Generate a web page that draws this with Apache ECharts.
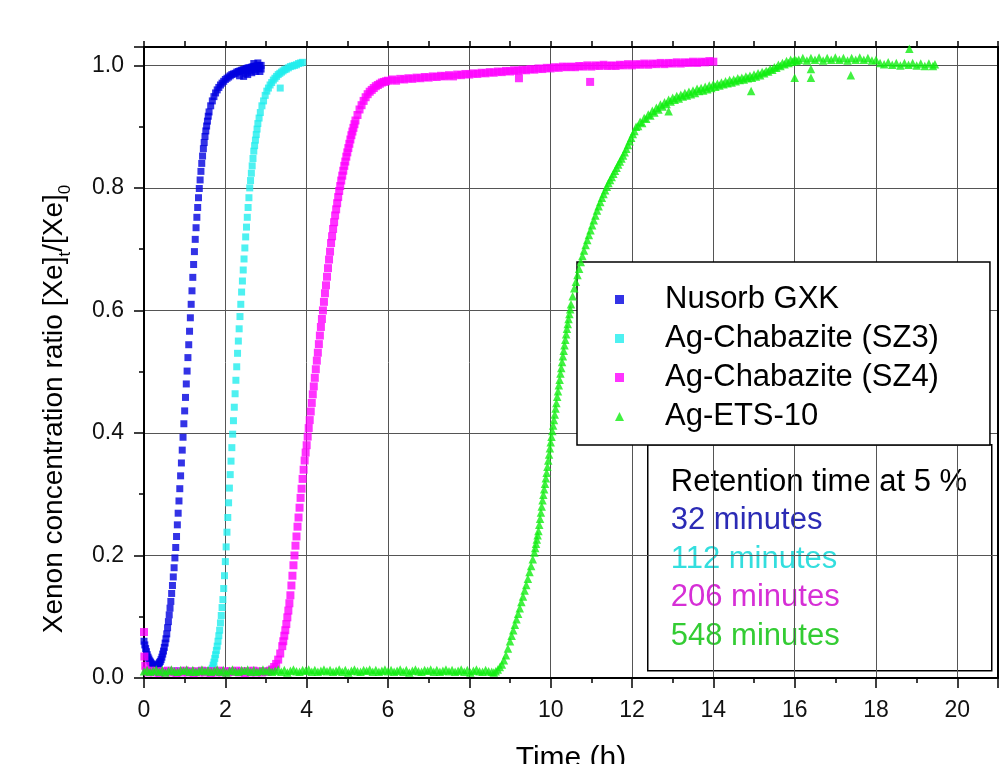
<!DOCTYPE html>
<html>
<head>
<meta charset="utf-8">
<script src="https://cdn.jsdelivr.net/npm/echarts@6/dist/echarts.min.js"></script>
<style>
html, body { margin: 0; padding: 0; background: #fff; }
#chart { width: 1000px; height: 764px; }
</style>
</head>
<body>
<div id="chart"></div>
<script>
// [time (h), [Xe]t/[Xe]0]
const nusorb = [
  [0.00,0.060],[0.02,0.054],[0.04,0.048],[0.06,0.043],[0.08,0.038],[0.10,0.034],[0.12,0.031],[0.14,0.028],
  [0.16,0.026],[0.18,0.024],[0.20,0.022],[0.22,0.021],[0.24,0.020],[0.26,0.020],[0.28,0.019],[0.30,0.020],
  [0.32,0.020],[0.34,0.021],[0.36,0.023],[0.38,0.025],[0.40,0.027],[0.42,0.030],[0.44,0.034],[0.46,0.039],
  [0.48,0.044],[0.50,0.050],[0.52,0.057],[0.54,0.064],[0.56,0.072],[0.58,0.082],[0.60,0.092],[0.62,0.103],
  [0.64,0.114],[0.66,0.125],[0.68,0.138],[0.70,0.151],[0.72,0.165],[0.74,0.180],[0.76,0.196],[0.78,0.213],
  [0.80,0.231],[0.82,0.250],[0.84,0.269],[0.86,0.289],[0.88,0.309],[0.90,0.330],[0.92,0.351],[0.94,0.372],
  [0.96,0.393],[0.98,0.415],[1.00,0.436],[1.02,0.458],[1.04,0.480],[1.06,0.501],[1.08,0.523],[1.10,0.544],
  [1.12,0.566],[1.14,0.588],[1.16,0.610],[1.18,0.632],[1.20,0.654],[1.22,0.675],[1.24,0.696],[1.26,0.716],
  [1.28,0.735],[1.30,0.752],[1.32,0.768],[1.34,0.784],[1.36,0.799],[1.38,0.813],[1.40,0.827],[1.42,0.840],
  [1.44,0.852],[1.46,0.864],[1.48,0.874],[1.50,0.884],[1.52,0.893],[1.54,0.901],[1.56,0.909],[1.58,0.917],
  [1.60,0.924],[1.64,0.934],[1.68,0.942],[1.72,0.949],[1.76,0.955],[1.80,0.960],[1.84,0.964],[1.88,0.968],
  [1.92,0.971],[1.96,0.974],[2.00,0.977],[2.04,0.979],[2.08,0.981],[2.12,0.983],[2.16,0.985],[2.20,0.986],
  [2.24,0.987],[2.28,0.989],[2.32,0.990],[2.36,0.991],[2.40,0.992],[2.44,0.993],[2.48,0.994],[2.52,0.995],
  [2.56,0.996],[2.60,0.996],[2.64,0.997],[2.68,0.998],[2.72,0.998],[2.76,0.999],[2.80,0.999],[2.84,1.000],
  [2.88,1.000],[2.45,0.982],[2.55,0.985],[2.65,0.988],[2.75,0.990],[2.85,0.990],[2.70,1.003],[2.80,1.004],
  [2.35,0.983],[2.50,0.987],[2.60,0.991],[2.72,0.993],[2.82,0.995],[2.88,0.994]
];
const sz3 = [
  [0.2,0.012],[0.5,0.011],[0.8,0.012],[1.1,0.011],[1.4,0.012],[1.6,0.012],
  [1.66,0.012],[1.68,0.016],[1.70,0.021],[1.72,0.026],[1.74,0.032],[1.76,0.038],[1.78,0.045],[1.80,0.052],
  [1.82,0.060],[1.84,0.069],[1.86,0.078],[1.88,0.090],[1.90,0.102],[1.92,0.115],[1.94,0.128],[1.96,0.146],
  [1.98,0.167],[2.00,0.190],[2.02,0.214],[2.04,0.238],[2.06,0.262],[2.08,0.286],[2.10,0.310],[2.12,0.332],
  [2.14,0.354],[2.16,0.376],[2.18,0.398],[2.20,0.420],[2.22,0.442],[2.24,0.464],[2.26,0.486],[2.28,0.508],
  [2.30,0.530],[2.32,0.550],[2.34,0.570],[2.36,0.590],[2.38,0.610],[2.40,0.630],[2.42,0.648],[2.44,0.666],
  [2.46,0.684],[2.48,0.702],[2.50,0.720],[2.52,0.736],[2.54,0.752],[2.56,0.768],[2.58,0.784],[2.60,0.800],
  [2.62,0.812],[2.64,0.824],[2.66,0.836],[2.68,0.848],[2.70,0.860],[2.72,0.869],[2.74,0.878],[2.76,0.887],
  [2.78,0.896],[2.80,0.905],[2.83,0.914],[2.86,0.923],[2.90,0.934],[2.94,0.942],[2.98,0.951],[3.02,0.958],
  [3.06,0.963],[3.10,0.968],[3.14,0.972],[3.18,0.976],[3.22,0.979],[3.26,0.982],[3.30,0.985],[3.34,0.987],
  [3.38,0.989],[3.42,0.991],[3.46,0.993],[3.50,0.994],[3.55,0.996],[3.60,0.998],[3.65,0.999],[3.70,1.000],
  [3.75,1.001],[3.80,1.003],[3.85,1.004],[3.90,1.005],[3.35,0.963]
];
const sz4 = [
  [0.00,0.075],[0.01,0.035],[0.03,0.020],[0.05,0.012],
  [0.10,0.009],[0.17,0.012],[0.24,0.009],[0.31,0.011],[0.38,0.008],[0.45,0.011],[0.52,0.009],[0.59,0.012],
  [0.66,0.009],[0.73,0.011],[0.80,0.008],[0.87,0.011],[0.94,0.009],[1.01,0.012],[1.08,0.009],[1.15,0.011],
  [1.22,0.008],[1.29,0.011],[1.36,0.009],[1.43,0.012],[1.50,0.009],[1.57,0.011],[1.64,0.008],[1.71,0.011],
  [1.78,0.009],[1.85,0.012],[1.92,0.009],[1.99,0.011],[2.06,0.009],[2.13,0.011],[2.20,0.010],[2.27,0.012],
  [2.34,0.009],[2.41,0.011],[2.48,0.008],[2.55,0.011],[2.62,0.009],[2.69,0.012],[2.76,0.009],[2.83,0.011],
  [2.90,0.009],[2.97,0.011],[3.04,0.010],
  [3.10,0.012],[3.15,0.014],[3.20,0.018],[3.25,0.023],[3.30,0.030],[3.35,0.040],
  [3.400,0.052],[3.425,0.060],[3.450,0.069],[3.475,0.078],[3.500,0.088],[3.525,0.099],[3.550,0.110],[3.575,0.122],
  [3.600,0.135],[3.625,0.151],[3.650,0.167],[3.675,0.184],[3.700,0.200],[3.725,0.216],[3.750,0.231],[3.775,0.247],
  [3.800,0.262],[3.825,0.278],[3.850,0.294],[3.875,0.309],[3.900,0.325],[3.925,0.340],[3.950,0.355],[3.975,0.368],
  [4.000,0.380],[4.025,0.394],[4.050,0.408],[4.075,0.421],[4.100,0.435],[4.125,0.449],[4.150,0.463],[4.175,0.476],
  [4.200,0.490],[4.225,0.504],[4.250,0.518],[4.275,0.531],[4.300,0.545],[4.325,0.559],[4.350,0.573],[4.375,0.586],
  [4.400,0.600],[4.425,0.614],[4.450,0.628],[4.475,0.641],[4.500,0.655],[4.525,0.669],[4.550,0.683],[4.575,0.696],
  [4.600,0.710],[4.625,0.721],[4.650,0.733],[4.675,0.744],[4.700,0.755],[4.725,0.765],[4.750,0.775],[4.775,0.785],
  [4.800,0.795],[4.825,0.803],[4.850,0.812],[4.875,0.820],[4.900,0.828],[4.925,0.836],[4.950,0.843],[4.975,0.851],
  [5.000,0.858],[5.025,0.865],[5.050,0.872],[5.075,0.879],[5.100,0.886],[5.125,0.892],[5.150,0.898],[5.175,0.904],
  [5.200,0.910],[5.250,0.919],[5.300,0.928],[5.35,0.935],[5.40,0.942],[5.45,0.948],[5.50,0.953],[5.55,0.957],
  [5.60,0.960],[5.65,0.963],[5.70,0.966],[5.75,0.968],[5.80,0.970],[5.85,0.972],[5.90,0.973],[5.95,0.974],
  [6.00,0.975],[6.1,0.977],[6.2,0.975],[6.3,0.978],[6.4,0.977],[6.5,0.979],[6.6,0.978],[6.7,0.980],[6.8,0.979],
  [6.9,0.981],[7.0,0.980],[7.1,0.982],[7.2,0.981],[7.3,0.983],[7.4,0.982],[7.5,0.984],[7.6,0.982],[7.7,0.985],
  [7.8,0.984],[7.9,0.986],[8.0,0.985],[8.1,0.987],[8.2,0.986],[8.3,0.988],[8.4,0.987],[8.5,0.989],[8.6,0.988],
  [8.7,0.990],[8.8,0.989],[8.9,0.991],[9.0,0.990],[9.1,0.992],[9.2,0.991],[9.3,0.993],[9.4,0.992],[9.5,0.994],
  [9.6,0.993],[9.7,0.995],[9.8,0.994],[9.9,0.996],[10.0,0.995],[10.1,0.997],[10.2,0.996],[10.3,0.998],[10.4,0.997],
  [10.5,0.998],[10.6,0.997],[10.7,0.999],[10.8,0.998],[10.9,1.000],[11.0,0.998],[11.1,1.000],[11.2,0.999],
  [11.3,1.001],[11.4,0.999],[11.5,1.000],[11.6,0.999],[11.7,1.001],[11.8,1.000],[11.9,1.002],[12.0,1.000],
  [12.1,1.002],[12.2,1.001],[12.3,1.003],[12.4,1.001],[12.5,1.003],[12.6,1.002],[12.7,1.004],[12.8,1.002],
  [12.9,1.004],[13.0,1.003],[13.1,1.005],[13.2,1.003],[13.3,1.005],[13.4,1.004],[13.5,1.006],[13.6,1.004],
  [13.7,1.006],[13.8,1.005],[13.9,1.007],[14.0,1.006],[9.22,0.979],[10.97,0.973]
];
const ets10 = [
  [0.000,0.011],[0.075,0.013],[0.150,0.010],[0.225,0.012],[0.300,0.014],[0.375,0.010],[0.450,0.013],[0.525,0.009],
  [0.600,0.012],[0.675,0.014],[0.750,0.011],[0.825,0.010],[0.900,0.013],[0.975,0.012],[1.050,0.014],[1.125,0.010],
  [1.200,0.013],[1.275,0.010],[1.350,0.012],[1.425,0.014],[1.500,0.011],[1.575,0.013],[1.650,0.010],[1.725,0.012],
  [1.800,0.014],[1.875,0.010],[1.950,0.013],[2.025,0.009],[2.100,0.012],[2.175,0.014],[2.250,0.011],[2.325,0.010],
  [2.400,0.013],[2.475,0.012],[2.550,0.014],[2.625,0.010],[2.700,0.013],[2.775,0.010],[2.850,0.012],[2.925,0.014],
  [3.000,0.011],[3.075,0.013],[3.150,0.010],[3.225,0.012],[3.300,0.014],[3.375,0.010],[3.450,0.013],[3.525,0.009],
  [3.600,0.012],[3.675,0.014],[3.750,0.011],[3.825,0.010],[3.900,0.013],[3.975,0.012],[4.050,0.014],[4.125,0.010],
  [4.200,0.013],[4.275,0.010],[4.350,0.012],[4.425,0.014],[4.500,0.011],[4.575,0.013],[4.650,0.010],[4.725,0.012],
  [4.800,0.014],[4.875,0.010],[4.950,0.013],[5.025,0.009],[5.100,0.012],[5.175,0.014],[5.250,0.011],[5.325,0.010],
  [5.400,0.013],[5.475,0.012],[5.550,0.014],[5.625,0.010],[5.700,0.013],[5.775,0.010],[5.850,0.012],[5.925,0.014],
  [6.000,0.011],[6.075,0.013],[6.150,0.010],[6.225,0.012],[6.300,0.014],[6.375,0.010],[6.450,0.013],[6.525,0.009],
  [6.600,0.012],[6.675,0.014],[6.750,0.011],[6.825,0.010],[6.900,0.013],[6.975,0.012],[7.050,0.014],[7.125,0.010],
  [7.200,0.013],[7.275,0.010],[7.350,0.012],[7.425,0.014],[7.500,0.011],[7.575,0.013],[7.650,0.010],[7.725,0.012],
  [7.800,0.014],[7.875,0.010],[7.950,0.013],[8.025,0.009],[8.100,0.012],[8.175,0.014],[8.250,0.011],[8.325,0.010],
  [8.400,0.013],[8.475,0.011],[8.550,0.010],
  [8.60,0.009],[8.65,0.011],[8.70,0.014],[8.75,0.018],[8.80,0.022],[8.85,0.029],[8.90,0.037],[8.95,0.048],
  [9.00,0.060],[9.04,0.069],[9.08,0.078],[9.12,0.087],[9.16,0.096],[9.20,0.105],[9.24,0.114],[9.28,0.124],
  [9.32,0.133],[9.36,0.143],[9.40,0.152],[9.44,0.162],[9.48,0.173],[9.52,0.183],[9.56,0.194],[9.60,0.205],
  [9.62,0.212],[9.64,0.219],[9.66,0.226],[9.68,0.233],[9.70,0.240],[9.72,0.250],[9.74,0.260],[9.76,0.270],
  [9.78,0.280],[9.80,0.290],[9.82,0.299],[9.84,0.308],[9.86,0.317],[9.88,0.326],[9.90,0.335],[9.92,0.345],
  [9.94,0.355],[9.96,0.365],[9.98,0.375],[10.00,0.385],[10.02,0.394],[10.04,0.403],[10.06,0.412],[10.08,0.421],
  [10.10,0.430],[10.12,0.440],[10.14,0.449],[10.16,0.459],[10.18,0.468],[10.20,0.478],[10.22,0.487],[10.24,0.497],
  [10.26,0.506],[10.28,0.516],[10.30,0.525],[10.32,0.534],[10.34,0.543],[10.36,0.552],[10.38,0.561],[10.40,0.570],
  [10.42,0.578],[10.44,0.586],[10.46,0.594],[10.48,0.602],[10.50,0.610],
  [10.54,0.623],[10.58,0.636],[10.62,0.647],[10.66,0.658],[10.70,0.668],[10.74,0.679],[10.78,0.689],[10.82,0.698],
  [10.86,0.707],[10.90,0.715],[10.94,0.723],[10.98,0.731],[11.02,0.739],[11.06,0.747],[11.10,0.755],[11.14,0.763],
  [11.18,0.770],[11.22,0.777],[11.26,0.784],[11.30,0.790],[11.34,0.796],[11.38,0.802],[11.42,0.808],[11.46,0.813],
  [11.50,0.818],[11.54,0.823],[11.58,0.828],[11.62,0.833],[11.66,0.838],[11.70,0.843],[11.74,0.848],[11.78,0.853],
  [11.82,0.858],[11.86,0.864],[11.90,0.870],[11.94,0.876],[11.98,0.882],[12.02,0.888],[12.06,0.893],
  [12.10,0.900],[12.15,0.901],[12.20,0.908],[12.25,0.906],[12.30,0.914],[12.35,0.913],[12.40,0.920],[12.45,0.918],
  [12.50,0.926],[12.55,0.923],[12.60,0.931],[12.65,0.928],[12.70,0.936],[12.75,0.933],[12.80,0.940],[12.85,0.937],
  [12.90,0.944],[12.95,0.941],[13.00,0.947],[13.05,0.944],[13.10,0.950],[13.15,0.946],[13.20,0.952],[13.25,0.949],
  [13.30,0.955],[13.35,0.951],[13.40,0.957],[13.45,0.953],[13.50,0.959],[13.55,0.955],[13.60,0.962],[13.65,0.958],
  [13.70,0.963],[13.75,0.959],[13.80,0.965],[13.85,0.961],[13.90,0.967],[13.95,0.963],[14.00,0.969],[14.05,0.965],
  [14.10,0.970],[14.15,0.967],[14.20,0.972],[14.25,0.969],[14.30,0.974],[14.35,0.971],[14.40,0.976],[14.45,0.972],
  [14.50,0.977],[14.55,0.974],[14.60,0.979],[14.65,0.976],[14.70,0.980],[14.75,0.977],[14.80,0.982],[14.85,0.979],
  [14.90,0.983],[14.95,0.980],[15.00,0.985],[15.05,0.982],[15.10,0.987],[15.15,0.984],[15.20,0.989],[15.25,0.987],
  [15.30,0.991],[15.35,0.990],[15.40,0.994],[15.45,0.993],[15.50,0.997],[15.55,0.996],[15.60,1.001],[15.65,0.999],
  [15.70,1.004],[15.75,1.002],[15.80,1.007],[15.85,1.004],[15.90,1.009],[15.95,1.006],[16.00,1.010],[16.05,1.007],
  [16.1,1.009],[16.2,1.012],[16.3,1.008],[16.4,1.012],[16.5,1.009],[16.6,1.013],[16.7,1.008],[16.8,1.012],
  [16.9,1.009],[17.0,1.013],[17.1,1.009],[17.2,1.012],[17.3,1.008],[17.4,1.012],[17.5,1.009],[17.6,1.013],
  [17.7,1.009],[17.8,1.012],[17.9,1.008],[18.0,1.009],[18.1,1.004],[18.2,1.002],[18.3,1.005],[18.4,1.001],
  [18.5,1.004],[18.6,1.000],[18.7,1.004],[18.8,1.001],[18.9,1.004],[19.0,1.000],[19.1,1.003],[19.2,0.999],
  [19.3,1.003],[19.4,0.999],[19.45,1.002],
  [12.9,0.925],[14.93,0.958],[16.0,0.980],[16.4,0.980],[16.4,0.994],[17.38,0.984],[18.82,1.027]
];
const seriesNames = ['Nusorb GXK', 'Ag-Chabazite (SZ3)', 'Ag-Chabazite (SZ4)', 'Ag-ETS-10'];
const seriesColors = ['#0000e0', '#22eeee', '#ff00ff', '#11ee11'];
const retentionTitle = 'Retention time at 5 %';
const retentionTimes = ['32 minutes', '112 minutes', '206 minutes', '548 minutes'];
const retentionColors = ['#2b2bb5', '#33dede', '#d62fd6', '#33cc33'];

const font = '"Liberation Sans", Arial, sans-serif';
const chart = echarts.init(document.getElementById('chart'));

const baseX = {
    type: 'value', min: 0, max: 21, interval: 2,
    axisLine: { show: true, onZero: false, lineStyle: { color: '#000', width: 2 } },
    minorTick: { show: true, splitNumber: 2, length: 5, lineStyle: { color: '#000', width: 1.5 } },
    splitLine: { show: false },
};
const baseY = {
    type: 'value', min: 0, max: 1.03, interval: 0.2,
    axisLine: { show: true, onZero: false, lineStyle: { color: '#000', width: 2 } },
    minorTick: { show: true, splitNumber: 2, length: 5, lineStyle: { color: '#000', width: 1.5 } },
    splitLine: { show: false },
};

const dataSets = [nusorb, sz3, sz4, ets10];
const sizes = [7, 7, 8, 8.5];
const series = dataSets.map((d, i) => ({
    type: 'scatter',
    name: seriesNames[i],
    data: d,
    symbol: i === 3 ? 'triangle' : 'rect',
    symbolSize: sizes[i],
    itemStyle: { color: seriesColors[i] },
    z: 2 + i,
}));

chart.setOption({
    animation: false,
    backgroundColor: '#fff',
    textStyle: { fontFamily: font },
    grid: { left: 144, width: 854, top: 47, height: 631, containLabel: false, outerBoundsMode: 'none' },
    xAxis: [
        Object.assign({}, baseX, {
            position: 'bottom',
            name: 'Time (h)',
            nameLocation: 'middle',
            nameGap: 66,
            nameTextStyle: { fontSize: 30, color: '#000', fontFamily: font },
            axisTick: { show: true, length: 10, lineStyle: { color: '#000', width: 1.5 } },
            axisLabel: {
                fontSize: 23, color: '#111', margin: 21, fontFamily: font,
                formatter: v => (v % 2 === 0 ? String(v) : '')
            },
            splitLine: { show: true, lineStyle: { color: '#555', width: 1 } },
        }),
        Object.assign({}, baseX, {
            position: 'top',
            axisTick: { show: true, length: 6, lineStyle: { color: '#000', width: 1.5 } },
            minorTick: { show: true, splitNumber: 2, length: 6, lineStyle: { color: '#000', width: 1.5 } },
            axisLabel: { show: false },
        }),
    ],
    yAxis: [
        Object.assign({}, baseY, {
            position: 'left',
            axisTick: { show: true, length: 10, lineStyle: { color: '#000', width: 1.5 } },
            axisLabel: {
                fontSize: 23, color: '#111', margin: 20, fontFamily: font,
                formatter: v => (v <= 1.0001 ? v.toFixed(1) : '')
            },
            splitLine: { show: true, lineStyle: { color: '#555', width: 1 } },
        }),
        Object.assign({}, baseY, {
            position: 'right',
            axisTick: { show: false },
            minorTick: { show: false },
            axisLabel: { show: false },
        }),
    ],
    legend: {
        orient: 'vertical',
        left: 577,
        top: 262,
        padding: [22, 51, 13, 38],
        itemWidth: 9,
        itemHeight: 9,
        itemGap: 8,
        backgroundColor: '#fff',
        borderColor: '#000',
        borderWidth: 1.5,
        borderRadius: 0,
        textStyle: { fontSize: 31, color: '#000', fontFamily: font, lineHeight: 30, padding: [0, 0, 0, 36] },
        data: seriesNames,
        selectedMode: false,
    },
    graphic: [
        {
            type: 'text',
            x: 54, y: 409,
            rotation: Math.PI / 2,
            z: 100,
            style: {
                text: '{a|Xenon concentration ratio [Xe]}{s|t}{a|/[Xe]}{s|0}',
                align: 'center',
                verticalAlign: 'middle',
                rich: {
                    a: { fontSize: 28, lineHeight: 40, fontFamily: font, fill: '#000', verticalAlign: 'middle' },
                    s: { fontSize: 17, lineHeight: 40, fontFamily: font, fill: '#000', verticalAlign: 'bottom' },
                },
            },
        },
        {
            type: 'group',
            left: 647,
            top: 444,
            z: 100,
            children: [
                {
                    type: 'rect',
                    shape: { x: 0, y: 0, width: 344, height: 226 },
                    style: { fill: '#fff', stroke: '#000', lineWidth: 1.5 },
                },
                {
                    type: 'text',
                    x: 23, y: 38,
                    style: { text: retentionTitle, fontSize: 31, fontFamily: font, fill: '#000', verticalAlign: 'middle' },
                },
            ].concat(retentionTimes.map((t, i) => ({
                type: 'text',
                x: 23, y: 76 + i * 38.5,
                style: { text: t, fontSize: 31, fontFamily: font, fill: retentionColors[i], verticalAlign: 'middle' },
            }))),
        },
    ],
    series: series,
});
</script>
</body>
</html>
